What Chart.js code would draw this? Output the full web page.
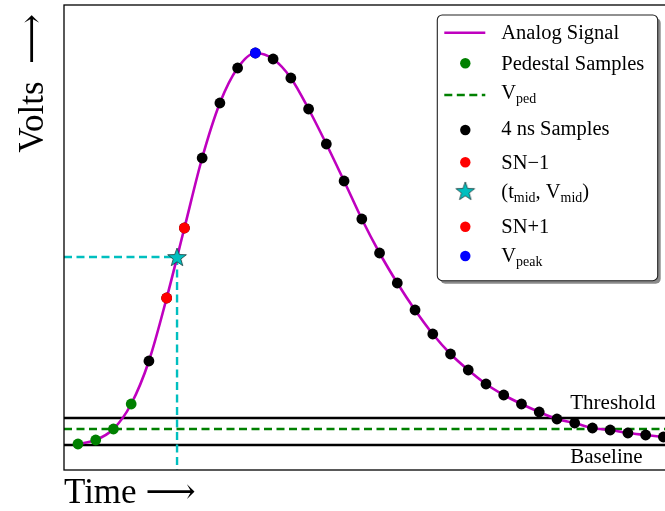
<!DOCTYPE html>
<html><head><meta charset="utf-8">
<script src="https://cdn.jsdelivr.net/npm/chart.js@4.4.1/dist/chart.umd.min.js"></script>
<style>
html,body{margin:0;padding:0;background:#fff;overflow:hidden;width:665px;height:511px;}
#wrap{width:700px;height:511px;position:relative;}
</style></head><body>
<div id="wrap"><canvas id="c"></canvas></div>
<script>
// ---- data (time in ns, amplitude in mV-like units) ----
const analogT = [0,4,8,12,16,20,24,28,32,36,40,44,48,52,56,60,64,68,72,76,80,84,88,92,96,100,104,108,112,116,120,124,128,132];
const analogV = [1,5,16,41,84,147,217,287,342,377,392,386,367,336,301,264,226,192,162,135,111,91,75,61,50,41,33,26,22,17,15,12,10,8];
const pedestalT = [0,4,8,12];
const pedestalV = [1,5,16,41];
const samplesT = [16,20,24,28,32,36,40,44,48,52,56,60,64,68,72,76,80,84,88,92,96,100,104,108,112,116,120,124,128,132];
const samplesV = [84,147,217,287,342,377,392,386,367,336,301,264,226,192,162,135,111,91,75,61,50,41,33,26,22,17,15,12,10,8];
const snMinus = [20, 147];
const snPlus = [24, 217];
const vPeak = [40, 392];
const midPoint = [22.34, 188];
const vPed = 16;
const thresholdLevel = 27;
const baselineLevel = 0;
const xLimits = [-3.15, 138];
const yLimits = [-25, 440];
const lineLabelT = 111;

const pts = (ts, vs) => ts.map((t, i) => ({x: t, y: vs[i]}));
const FONT = '"Liberation Serif", "DejaVu Serif", serif';

// filled star marker
const star = document.createElement('canvas');
star.width = 22; star.height = 22;
(function(){
  const g = star.getContext('2d');
  g.beginPath();
  for (let k = 0; k < 10; k++) {
    const r = k % 2 === 0 ? 9.8 : 4.0;
    const a = -Math.PI / 2 + k * Math.PI / 5;
    const px = 11 + r * Math.cos(a), py = 11.8 + r * Math.sin(a);
    k === 0 ? g.moveTo(px, py) : g.lineTo(px, py);
  }
  g.closePath();
  g.fillStyle = '#00bfbf'; g.fill();
  g.strokeStyle = '#1a3a3a'; g.lineWidth = 0.8; g.stroke();
})();

const legendRows = [ // offsets inside legend box: handle y, text cap-centre y
  [17.7, 16.8], [48.3, 48], [80, 76.7], [115, 113], [147.3, 147], [176.7, 176], [211.7, 211], [241, 240]
];

function drawRich(ctx, str, x, yBase, size) {
  const parts = str.split(/(_\{[^}]*\})/);
  let cx = x;
  for (const p of parts) {
    if (!p) continue;
    if (p.startsWith('_{')) {
      const s = p.slice(2, -1);
      ctx.font = (size * 0.68) + 'px ' + FONT;
      ctx.fillText(s, cx, yBase + 4.5);
      cx += ctx.measureText(s).width;
    } else {
      ctx.font = size + 'px ' + FONT;
      ctx.fillText(p, cx, yBase);
      cx += ctx.measureText(p).width;
    }
  }
}

function rr(ctx, x, y, w, h, r) {
  ctx.beginPath();
  ctx.moveTo(x + r, y);
  ctx.arcTo(x + w, y, x + w, y + h, r);
  ctx.arcTo(x + w, y + h, x, y + h, r);
  ctx.arcTo(x, y + h, x, y, r);
  ctx.arcTo(x, y, x + w, y, r);
  ctx.closePath();
}

const decor = {
  id: 'decor',
  afterDatasetsDraw(chart) {
    const {ctx, scales: {x, y}} = chart;
    ctx.save();
    ctx.font = '21px ' + FONT;
    ctx.fillStyle = '#000';
    ctx.textAlign = 'left';
    ctx.textBaseline = 'alphabetic';
    ctx.fillText('Threshold', x.getPixelForValue(lineLabelT), y.getPixelForValue(thresholdLevel) - 9.4);
    ctx.fillText('Baseline', x.getPixelForValue(lineLabelT), y.getPixelForValue(baselineLevel) + 18.3);
    ctx.restore();
  },
  afterDraw(chart) {
    const {ctx, chartArea: a} = chart;
    ctx.save();
    ctx.strokeStyle = '#000'; ctx.lineWidth = 1.3;
    ctx.strokeRect(a.left, a.top, a.right - a.left, a.bottom - a.top);
    // legend
    const L = {x: a.left + 373.3, y: a.top + 10, w: 220.4, h: 265.7};
    ctx.fillStyle = '#8a8a8a';
    rr(ctx, L.x + 3, L.y + 3, L.w, L.h, 5); ctx.fill();
    ctx.fillStyle = '#fff';
    rr(ctx, L.x, L.y, L.w, L.h, 5); ctx.fill();
    ctx.strokeStyle = '#222'; ctx.lineWidth = 1.1; ctx.stroke();
    const items = chart.data.datasets.filter(d => d.legendIndex !== undefined)
      .sort((p, q) => p.legendIndex - q.legendIndex);
    items.forEach((d, i) => {
      const [hy, ty] = legendRows[i];
      const yH = L.y + hy;
      const mx = L.x + 28;
      if (d.legendType === 'line') {
        ctx.save();
        ctx.strokeStyle = d.borderColor; ctx.lineWidth = d.borderWidth;
        ctx.setLineDash(d.borderDash || []);
        ctx.beginPath(); ctx.moveTo(L.x + 7, yH); ctx.lineTo(L.x + 48, yH); ctx.stroke();
        ctx.restore();
      } else if (d.legendType === 'star') {
        ctx.drawImage(star, mx - 11, yH - 11.8);
      } else {
        ctx.beginPath(); ctx.arc(mx, yH, 5.2, 0, Math.PI * 2);
        ctx.fillStyle = d.backgroundColor; ctx.fill();
      }
      ctx.fillStyle = '#000'; ctx.textAlign = 'left'; ctx.textBaseline = 'alphabetic';
      drawRich(ctx, d.label, L.x + 64, L.y + ty + 6.8, 20.5);
    });
    ctx.restore();
  }
};

const dot = (label, data, color, idx, order) => ({
  label, data, showLine: false, pointRadius: 5.4, pointHoverRadius: 5.4,
  backgroundColor: color, borderColor: color, pointBorderWidth: 0,
  order, legendIndex: idx, legendType: 'dot'
});

new Chart(document.getElementById('c'), {
  type: 'line',
  data: {
    datasets: [
      {label: 'Analog Signal', data: pts(analogT, analogV), borderColor: '#bf00bf', borderWidth: 2.6,
       pointRadius: 0, cubicInterpolationMode: 'monotone', order: 6, legendIndex: 0, legendType: 'line'},
      dot('Pedestal Samples', pts(pedestalT, pedestalV), '#008000', 1, 2),
      {label: 'V_{ped}', data: [{x: xLimits[0], y: vPed}, {x: xLimits[1], y: vPed}], borderColor: '#008000',
       borderWidth: 2.4, borderDash: [8, 4.5], pointRadius: 0, order: 7, legendIndex: 2, legendType: 'line'},
      dot('4 ns Samples', pts(samplesT, samplesV), '#000000', 3, 3),
      dot('SN\u22121', [{x: snMinus[0], y: snMinus[1]}], '#ff0000', 4, 1),
      {label: '(t_{mid}, V_{mid})', data: [{x: midPoint[0], y: midPoint[1]}], showLine: false,
       pointStyle: star, pointRadius: 10, order: 0, legendIndex: 5, legendType: 'star'},
      dot('SN+1', [{x: snPlus[0], y: snPlus[1]}], '#ff0000', 6, 1),
      dot('V_{peak}', [{x: vPeak[0], y: vPeak[1]}], '#0000ff', 7, 1),
      {label: 'Threshold', data: [{x: xLimits[0], y: thresholdLevel}, {x: xLimits[1], y: thresholdLevel}],
       borderColor: '#000', borderWidth: 2.3, pointRadius: 0, order: 9},
      {label: 'Baseline', data: [{x: xLimits[0], y: baselineLevel}, {x: xLimits[1], y: baselineLevel}],
       borderColor: '#000', borderWidth: 2.3, pointRadius: 0, order: 9},
      {label: 'mid-h', data: [{x: xLimits[0], y: midPoint[1]}, {x: midPoint[0], y: midPoint[1]}],
       borderColor: '#00bfbf', borderWidth: 2.4, borderDash: [8, 4.5], pointRadius: 0, order: 8},
      {label: 'mid-v', data: [{x: midPoint[0], y: midPoint[1]}, {x: midPoint[0], y: yLimits[0]}],
       borderColor: '#00bfbf', borderWidth: 2.4, borderDash: [8, 4.5], pointRadius: 0, order: 8}
    ]
  },
  options: {
    responsive: true, maintainAspectRatio: false, animation: false, events: [],
    layout: {autoPadding: false, padding: {left: 0, top: 5, right: 10, bottom: 0}},
    plugins: {legend: {display: false}, tooltip: {enabled: false}},
    scales: {
      x: {type: 'linear', min: xLimits[0], max: xLimits[1],
          ticks: {display: false}, grid: {display: false, drawTicks: false}, border: {display: false},
          title: {display: true, text: 'Time \u27F6', align: 'start', color: '#000',
                  font: {family: FONT, size: 35, lineHeight: 1}, padding: {top: 6, bottom: 0}}},
      y: {type: 'linear', min: yLimits[0], max: yLimits[1],
          ticks: {display: false}, grid: {display: false, drawTicks: false}, border: {display: false},
          title: {display: true, text: 'Volts  \u27F6 ', align: 'end', color: '#000',
                  font: {family: FONT, size: 35, lineHeight: 1}, padding: {top: 16.5, bottom: 12.5}}}
    }
  },
  plugins: [decor]
});
</script>
</body></html>
